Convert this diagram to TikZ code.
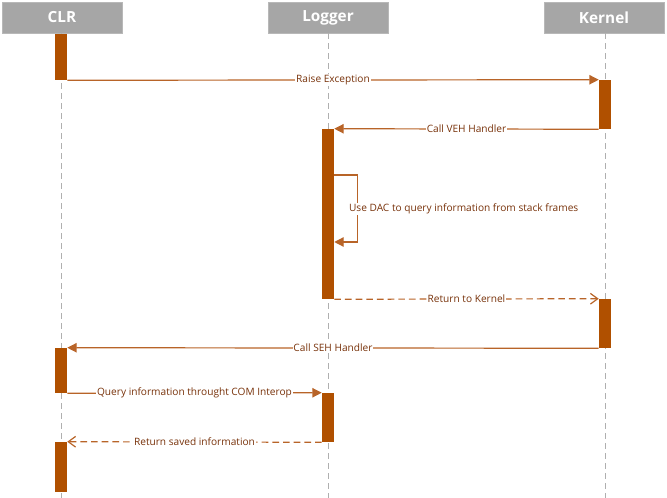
\documentclass[tikz,border=0pt]{standalone}
\usepackage{fontspec}
\setmainfont{Open Sans}
\usetikzlibrary{arrows.meta}

\definecolor{headgray}{RGB}{166,166,166}
\definecolor{barbrown}{RGB}{176,80,0}
\definecolor{msgline}{RGB}{184,100,40}
\definecolor{msgtext}{RGB}{120,50,10}
\definecolor{lifegray}{RGB}{175,175,175}

\tikzset{
  header/.style={fill=headgray, draw=headgray!80, minimum width=90pt, minimum height=23.25pt,
    text=white, font=\bfseries\fontsize{11.5}{13}\selectfont},
  lifeline/.style={lifegray, dash pattern=on 4.5pt off 3pt},
  actbar/.style={fill=barbrown, draw=none, minimum width=9pt, inner sep=0pt},
  msg/.style={msgline, line width=0.9pt, -{Triangle[length=7pt,width=7pt]}},
  reply/.style={msgline, line width=0.9pt, dash pattern=on 5pt off 3pt, -{Straight Barb[length=5.5pt,width=8pt]}},
  msglabel/.style={fill=white, text=msgtext, inner sep=0.6pt, font=\fontsize{7.6}{9}\selectfont}
}

\begin{document}
\begin{tikzpicture}[x=0.75pt, y=-0.75pt]
    \useasboundingbox (0,0) rectangle (667,498);

    % Headers
    \node[header] (clr) at (62,17.5) {CLR};
    \node[header] (logger) at (328,17.5) {Logger};
    \node[header] (kernel) at (604,17.5) {Kernel};

    % Lifelines
    \coordinate (clrEnd) at (61,498);
    \coordinate (logEnd) at (328,498);
    \coordinate (kerEnd) at (605,498);
    \draw[lifeline] (clr.south -| clrEnd) -- (clrEnd);
    \draw[lifeline] (logger.south -| logEnd) -- (logEnd);
    \draw[lifeline] (kernel.south -| kerEnd) -- (kerEnd);

    % Activation bars
    \node[actbar, minimum height=34.5pt] (clrA) at (61,57) {};
    \node[actbar, minimum height=36.75pt] (kerA) at (605,104.5) {};
    \node[actbar, minimum height=127.5pt] (logA) at (328,214) {};
    \node[actbar, minimum height=36.75pt] (kerB) at (605,323.5) {};
    \node[actbar, minimum height=33.75pt] (clrB) at (61,370.5) {};
    \node[actbar, minimum height=36.75pt] (logB) at (328,417.5) {};
    \node[actbar, minimum height=37.5pt] (clrC) at (61,467) {};

    % Messages
    \draw[msg] (clrA.south east) -- node[msglabel] {Raise Exception} (kerA.north west);
    \draw[msg] (kerA.south west) -- node[msglabel] {Call VEH Handler} (logA.north east);

    % Self call
    \coordinate (selfS) at (logA.east |- 0,175);
    \coordinate (selfE) at (logA.east |- 0,242);
    \draw[msg] (selfS) -- ++(23,0) |- (selfE);
    \node[msglabel, anchor=west] (selfL) at (348,209) {Use DAC to query information from stack frames};

    \draw[reply] (logA.south east) -- node[msglabel] {Return to Kernel} (kerB.north west);
    \draw[msg] (kerB.south west) -- node[msglabel] {Call SEH Handler} (clrB.north east);
    \draw[msg] (clrB.south east) -- node[msglabel] {Query information throught COM Interop} (logB.north west);
    \draw[reply] (logB.south west) -- node[msglabel] {Return saved information} (clrC.north east);
\end{tikzpicture}
\end{document}
